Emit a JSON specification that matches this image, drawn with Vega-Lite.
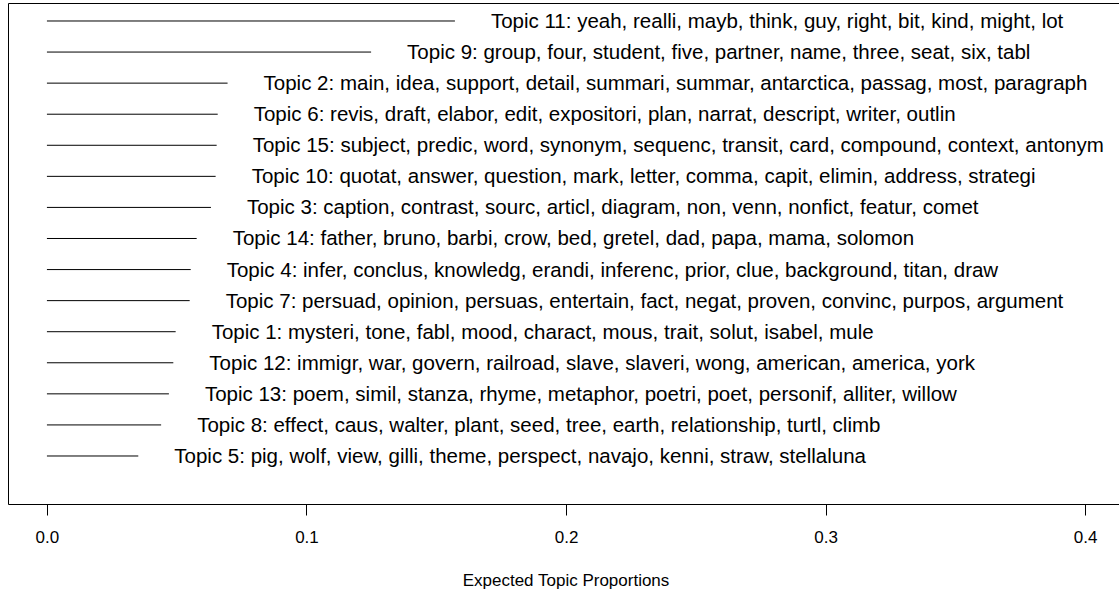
{
  "$schema": "https://vega.github.io/schema/vega-lite/v6.json",
  "autosize": "none",
  "width": 1129,
  "height": 501,
  "padding": {"left": 8, "top": 3, "right": 0, "bottom": 88},
  "background": "white",
  "config": {
    "font": "Liberation Sans",
    "view": {"stroke": "#000000", "strokeWidth": 1}
  },
  "data": {
    "values": [
      {"topic": "Topic 11: yeah, realli, mayb, think, guy, right, bit, kind, might, lot", "value": 0.1572, "rank": 15},
      {"topic": "Topic 9: group, four, student, five, partner, name, three, seat, six, tabl", "value": 0.1249, "rank": 14},
      {"topic": "Topic 2: main, idea, support, detail, summari, summar, antarctica, passag, most, paragraph", "value": 0.0696, "rank": 13},
      {"topic": "Topic 6: revis, draft, elabor, edit, expositori, plan, narrat, descript, writer, outlin", "value": 0.0658, "rank": 12},
      {"topic": "Topic 15: subject, predic, word, synonym, sequenc, transit, card, compound, context, antonym", "value": 0.0654, "rank": 11},
      {"topic": "Topic 10: quotat, answer, question, mark, letter, comma, capit, elimin, address, strategi", "value": 0.065, "rank": 10},
      {"topic": "Topic 3: caption, contrast, sourc, articl, diagram, non, venn, nonfict, featur, comet", "value": 0.0632, "rank": 9},
      {"topic": "Topic 14: father, bruno, barbi, crow, bed, gretel, dad, papa, mama, solomon", "value": 0.0577, "rank": 8},
      {"topic": "Topic 4: infer, conclus, knowledg, erandi, inferenc, prior, clue, background, titan, draw", "value": 0.0554, "rank": 7},
      {"topic": "Topic 7: persuad, opinion, persuas, entertain, fact, negat, proven, convinc, purpos, argument", "value": 0.055, "rank": 6},
      {"topic": "Topic 1: mysteri, tone, fabl, mood, charact, mous, trait, solut, isabel, mule", "value": 0.0496, "rank": 5},
      {"topic": "Topic 12: immigr, war, govern, railroad, slave, slaveri, wong, american, america, york", "value": 0.0487, "rank": 4},
      {"topic": "Topic 13: poem, simil, stanza, rhyme, metaphor, poetri, poet, personif, alliter, willow", "value": 0.047, "rank": 3},
      {"topic": "Topic 8: effect, caus, walter, plant, seed, tree, earth, relationship, turtl, climb", "value": 0.044, "rank": 2},
      {"topic": "Topic 5: pig, wolf, view, gilli, theme, perspect, navajo, kenni, straw, stellaluna", "value": 0.0352, "rank": 1}
    ]
  },
  "layer": [
    {
      "mark": {"type": "rule", "color": "#000000", "strokeWidth": 1},
      "encoding": {
        "y": {
          "field": "rank",
          "type": "quantitative",
          "scale": {"domain": [-0.545, 15.579], "nice": false, "zero": false},
          "axis": null
        },
        "x": {
          "field": "value",
          "type": "quantitative",
          "scale": {"domain": [-0.015, 0.42], "nice": false, "zero": false},
          "axis": {
            "values": [0, 0.1, 0.2, 0.3, 0.4],
            "format": ".1f",
            "domain": false,
            "grid": false,
            "ticks": true,
            "tickSize": 11,
            "tickColor": "#000000",
            "tickWidth": 1,
            "labelFontSize": 17,
            "labelColor": "#000000",
            "labelPadding": 14,
            "labelFlush": false,
            "title": "Expected Topic Proportions",
            "titleFontSize": 17,
            "titleFontWeight": "normal",
            "titleColor": "#000000",
            "titleBaseline": "alphabetic",
            "titleY": 81,
            "titleX": 557.5,
            "titleAlign": "center"
          }
        },
        "x2": {"datum": 0}
      }
    },
    {
      "mark": {"type": "text", "align": "left", "baseline": "middle", "dx": 36, "dy": 1, "fontSize": 20.5, "color": "#000000"},
      "encoding": {
        "y": {"field": "rank", "type": "quantitative"},
        "x": {"field": "value", "type": "quantitative"},
        "text": {"field": "topic"}
      }
    }
  ]
}
